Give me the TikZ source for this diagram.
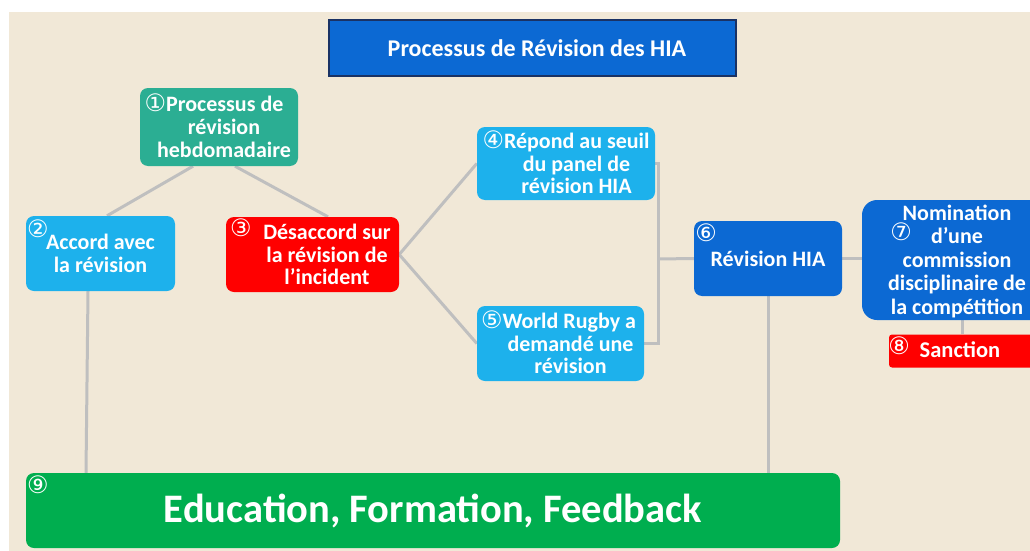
\documentclass[tikz,border=0pt]{standalone}
\usepackage{fontspec}
\setmainfont{Carlito}
\newfontfamily\circfont{DejaVu Sans}
\usetikzlibrary{calc}
\definecolor{bgbeige}{RGB}{241,232,215}
\definecolor{teal}{RGB}{43,174,147}
\definecolor{lblue}{RGB}{29,177,236}
\definecolor{dblue}{RGB}{12,105,211}
\definecolor{gred}{RGB}{255,0,0}
\definecolor{ggreen}{RGB}{0,174,79}
\definecolor{lgray}{RGB}{191,191,191}
\definecolor{navy}{RGB}{26,50,100}
\newcommand{\cn}[1]{{\circfont\mdseries\fontsize{24}{24}\selectfont #1}}
\newcommand{\cni}[1]{\smash{\cn{#1}}}
\pgfdeclarelayer{bglayer}
\pgfdeclarelayer{linelayer}
\pgfsetlayers{bglayer,linelayer,main}
\tikzset{
  box/.style={rounded corners=8pt, inner sep=0pt, text=white, align=center,
    font=\bfseries\fontsize{22}{22.7}\selectfont},
  conn/.style={draw=lgray, line width=3pt},
  numlabel/.style={text=white, inner sep=0pt}
}
\begin{document}
\begin{tikzpicture}[x=1pt,y=-1pt]
\clip (0,0) rectangle (1030,551);
\begin{pgfonlayer}{bglayer}
\fill[white] (0,0) rectangle (1030,551);
\fill[bgbeige] (9,12) rectangle (1030,551);
\end{pgfonlayer}
% title
\node[fill=dblue, draw=navy, line width=1.2pt, minimum width=407pt, minimum height=56pt,
  inner sep=0pt, text=white, font=\bfseries\fontsize{24}{28}\selectfont] (title) at (532.5,48) {\hspace*{9pt}Processus de Révision des HIA};
% nodes
\node[box, fill=teal, minimum width=158pt, minimum height=78pt] (n1) at (219,127)
  {\cni{①}Processus de\hspace*{10pt}\\ \hspace*{10pt}révision\\ \hspace*{10pt}hebdomadaire};
\node[box, fill=lblue, minimum width=149pt, minimum height=75pt] (n2) at (100.5,253.5)
  {Accord avec\\la révision};
\node[box, fill=gred, minimum width=173pt, minimum height=75pt] (n3) at (312.5,254.5)
  {\hspace*{29pt}Désaccord sur\\ \hspace*{29pt}la révision de\\ \hspace*{29pt}l’incident};
\node[box, fill=lblue, minimum width=178pt, minimum height=73pt] (n4) at (566,163.5)
  {\cni{④}Répond au seuil\\ \hspace*{21pt}du panel de\\ \hspace*{21pt}révision HIA};
\node[box, fill=lblue, minimum width=167pt, minimum height=75pt] (n5) at (560.5,343.5)
  {\cni{⑤}World Rugby a\hspace*{4pt}\\ \hspace*{20pt}demandé une\\ \hspace*{20pt}révision};
\node[box, fill=dblue, minimum width=148pt, minimum height=75pt] (n6) at (768,258.5)
  {Révision HIA};
\node[box, fill=dblue, rounded corners=15pt, minimum width=186pt, minimum height=120pt] (n7) at (955,260)
  {};
\node[text=white, align=center, inner sep=0pt, font=\bfseries\fontsize{22}{23.5}\selectfont] (t7) at (957,261)
  {Nomination\\d’une\\commission\\disciplinaire de\\la compétition};
\node[box, fill=gred, rounded corners=3pt, minimum width=146pt, minimum height=33pt] (n8) at (962,351)
  {};
\node[text=white, inner sep=0pt, font=\bfseries\fontsize{22.5}{24}\selectfont] (t8) at (960,350) {Sanction};
\node[box, fill=ggreen, minimum width=814pt, minimum height=75pt,
  font=\bfseries\fontsize{40.5}{44}\selectfont] (n9) at (433,510.5)
  {Education, Formation, Feedback};
% number labels
\node[numlabel] (c2) at (38,229) {\cn{②}};
\node[numlabel] (c3) at (241,228) {\cn{③}};
\node[numlabel] (c6) at (706,233) {\cn{⑥}};
\node[numlabel] (c7) at (901,232) {\cn{⑦}};
\node[numlabel] (c8) at (899,346) {\cn{⑧}};
\node[numlabel] (c9) at (38,485) {\cn{⑨}};
% connectors
\coordinate (j) at (658,259);
\begin{pgfonlayer}{linelayer}
\draw[conn] ([xshift=-26pt]n1.south) -- ([xshift=6.5pt]n2.north);
\draw[conn] ([xshift=16pt]n1.south) -- ([xshift=15.5pt]n3.north);
\draw[conn] (n3.east) -- (n4.west);
\draw[conn] (n3.east) -- (n5.west);
\draw[conn] (n4.east) -| (j);
\draw[conn] (n5.east) -| (j);
\draw[conn] (j) -- (n6.west);
\draw[conn] (n6.east) -- (n6.east -| n7.west);
\draw[conn] (n8.north) -- (n8.north |- n7.south);
\draw[conn] (n6.south) -- (n6.south |- n9.north);
\draw[conn] ([xshift=-12.5pt]n2.south) -- ([xshift=-347pt]n9.north);
\end{pgfonlayer}
\end{tikzpicture}
\end{document}
